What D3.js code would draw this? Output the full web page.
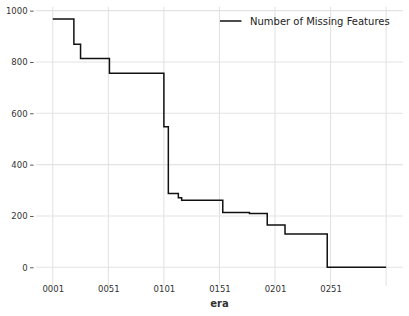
<!DOCTYPE html>
<html>
<head>
<meta charset="utf-8">
<script src="https://cdn.jsdelivr.net/npm/d3@7"></script>
<style>
html,body{margin:0;padding:0;background:#fff;}
svg{display:block;font-family:"DejaVu Sans",sans-serif;}
</style>
</head>
<body>
<svg id="chart" width="409" height="316"></svg>
<script>
// Eras where the number of missing features changes, and the value from that era on
const changeEras = [1, 20, 26, 52, 101, 105, 114, 117, 154, 178, 194, 210, 248, 301];
const missingCounts = [967, 869, 814, 756, 548, 288, 271, 261, 213, 210, 165, 130, 0, 0];
const xTickEras = [1, 51, 101, 151, 201, 251, 301];
const xTickLabels = ["0001", "0051", "0101", "0151", "0201", "0251", ""];
const yTicks = [0, 200, 400, 600, 800, 1000];
const seriesName = "Number of Missing Features";
const xTitle = "era";

const svg = d3.select("#chart");
const pLeft = 36.1, pRight = 402.8, pTop = 6.7, pBottom = 279.7;

const x = d3.scaleLinear().domain([-14, 316]).range([pLeft, pRight]);
const y = d3.scaleLinear().domain([-48.35, 1015.35]).range([pBottom, pTop]);

const grid = "#e3e3e3";

// vertical grid
svg.append("g").selectAll("line").data(xTickEras).join("line")
  .attr("x1", d => x(d)).attr("x2", d => x(d))
  .attr("y1", pTop).attr("y2", pBottom + 6)
  .attr("stroke", grid).attr("stroke-width", 1.1);

// horizontal grid
svg.append("g").selectAll("line").data(yTicks).join("line")
  .attr("x1", pLeft).attr("x2", pRight)
  .attr("y1", d => y(d)).attr("y2", d => y(d))
  .attr("stroke", grid).attr("stroke-width", 1.1);

// y axis (labels + small dark ticks)
const yAxis = d3.axisLeft(y).tickValues(yTicks).tickSize(3.5).tickPadding(2.5).tickFormat(d3.format("d"));
const gy = svg.append("g").attr("transform", `translate(${pLeft - 2.5},0)`).call(yAxis);
gy.select(".domain").remove();
gy.selectAll(".tick line").attr("stroke", "#555");
gy.selectAll(".tick text").attr("fill", "#333").style("font-size", "8.5px").style("font-family", "DejaVu Sans");

// x axis labels
const xAxis = d3.axisBottom(x).tickValues(xTickEras).tickSize(0).tickPadding(0)
  .tickFormat((d, i) => xTickLabels[i]);
const gx = svg.append("g").attr("transform", `translate(0,${pBottom + 6})`).call(xAxis);
gx.select(".domain").remove();
gx.selectAll(".tick text").attr("fill", "#333").style("font-size", "8.5px").style("font-family", "DejaVu Sans");

// x title
svg.append("text").attr("x", (pLeft + pRight) / 2).attr("y", 307)
  .attr("text-anchor", "middle").attr("fill", "#333")
  .style("font-size", "10px").style("font-weight", "bold").text(xTitle);

// step line
const pts = changeEras.map((e, i) => [e, missingCounts[i]]);
const line = d3.line().x(d => x(d[0])).y(d => y(d[1])).curve(d3.curveStepAfter);
svg.append("path").datum(pts).attr("d", line)
  .attr("fill", "none").attr("stroke", "#111").attr("stroke-width", 1.5);

// legend
svg.append("line").attr("x1", 220).attr("x2", 241.5).attr("y1", 21).attr("y2", 21)
  .attr("stroke", "#111").attr("stroke-width", 1.5);
svg.append("text").attr("x", 250).attr("y", 24.5).attr("fill", "#222")
  .style("font-size", "10px").text(seriesName);
</script>
</body>
</html>
